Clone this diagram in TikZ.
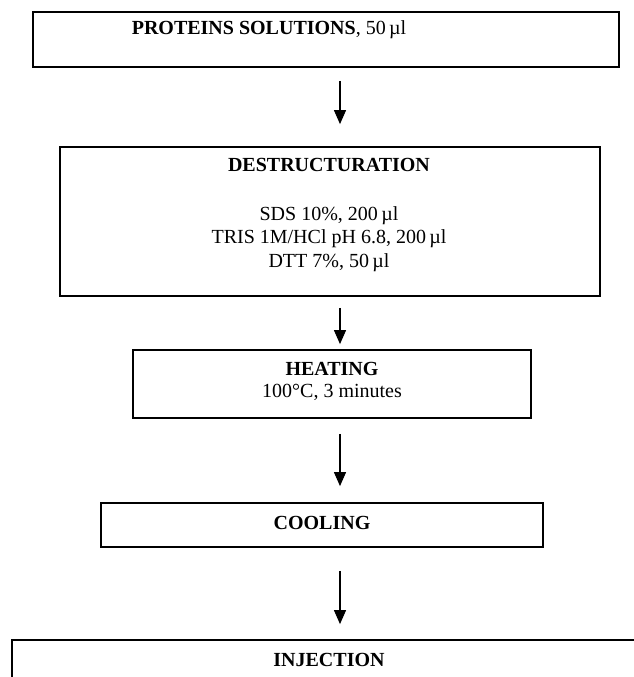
\documentclass[tikz,border=0pt]{standalone}
\usepackage{fontspec}
\setmainfont{Liberation Serif}
\usetikzlibrary{arrows.meta,positioning}

\tikzset{
  stepbox/.style={draw, line width=0.9pt, inner sep=0pt},
  flow/.style={->, line width=0.6pt},
}

\begin{document}
\begin{tikzpicture}[x=0.5pt, y=-0.5pt, >={Triangle[length=7pt, width=6pt]}, font=\fontsize{10}{12}\selectfont]
    \clip (0,0) rectangle (634,677);
    \coordinate (axis) at (340,0);
    \node[stepbox, minimum width=293pt, minimum height=27.5pt] (solutions) at (326,39.5) {};
    \node[stepbox, minimum width=270pt, minimum height=74.5pt] (destruct) at (330,221.5) {};
    \node[stepbox, minimum width=199pt, minimum height=34pt] (heating) at (332,384) {};
    \node[stepbox, minimum width=221pt, minimum height=22pt] (cooling) at (322,525) {};
    \node[stepbox, minimum width=330pt, minimum height=40pt] (injection) at (342,680) {};
    \node (solutions_txt) at (269,30) {\textbf{PROTEINS SOLUTIONS}, 50\,µl};
    \node (destruct_title) at (329,165) {\textbf{DESTRUCTURATION}};
    \node[align=center, font=\fontsize{10}{11.75}\selectfont] (destruct_txt) at (329,239) {SDS 10\%, 200\,µl\\TRIS 1M/HCl pH 6.8, 200\,µl\\DTT 7\%, 50\,µl};
    \node[align=center, font=\fontsize{10}{11}\selectfont] (heating_txt) at (332,381) {\textbf{HEATING}\\100°C, 3 minutes};
    \node (cooling_txt) at (322,523) {\textbf{COOLING}};
    \node (injection_txt) at (329,660) {\textbf{INJECTION}};
    \draw[flow, shorten <=6.5pt, shorten >=11pt] (solutions.south -| axis) -- (destruct.north -| axis);
    \draw[flow, shorten <=5.5pt, shorten >=2.5pt] (destruct.south -| axis) -- (heating.north -| axis);
    \draw[flow, shorten <=7.5pt, shorten >=8pt] (heating.south -| axis) -- (cooling.north -| axis);
    \draw[flow, shorten <=11.5pt, shorten >=7.5pt] (cooling.south -| axis) -- (injection.north -| axis);
\end{tikzpicture}
\end{document}
